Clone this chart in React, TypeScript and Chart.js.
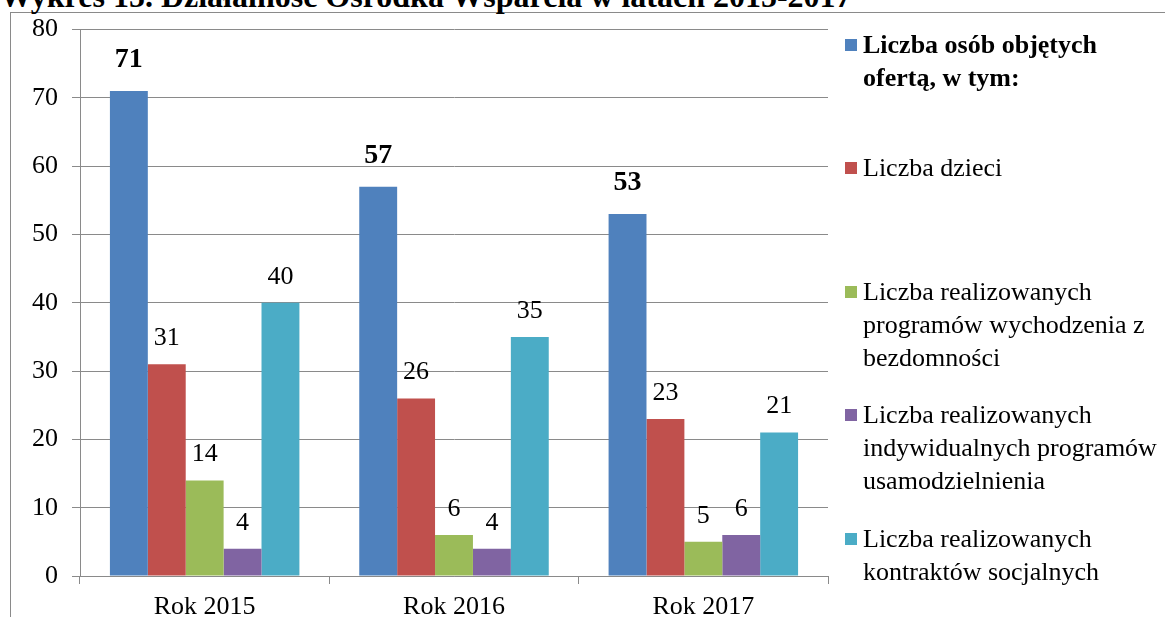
import React, { useEffect, useRef } from "react";
import { Chart, registerables } from "chart.js";

Chart.register(...registerables);

const categories = ["Rok 2015", "Rok 2016", "Rok 2017"];
const seriesNames = [
  "Liczba osób objętych\nofertą, w tym:",
  "Liczba dzieci",
  "Liczba realizowanych\nprogramów wychodzenia z\nbezdomności",
  "Liczba realizowanych\nindywidualnych programów\nusamodzielnienia",
  "Liczba realizowanych\nkontraktów socjalnych",
];
const osobyValues = [71, 57, 53];
const dzieciValues = [31, 26, 23];
const wychodzenieValues = [14, 6, 5];
const usamodzielnienieValues = [4, 4, 6];
const kontraktyValues = [40, 35, 21];
const seriesValues = [osobyValues, dzieciValues, wychodzenieValues, usamodzielnienieValues, kontraktyValues];
const seriesColors = ["#4F81BD", "#C0504D", "#9BBB59", "#8064A2", "#4BACC6"];
const yTicks = [0, 10, 20, 30, 40, 50, 60, 70, 80];
const titleText = "Wykres 15. Działalność Ośrodka Wsparcia w latach 2015-2017";

const FONT = '"Liberation Serif", "Times New Roman", serif';
const GRID = "#8a8a8a";

const valueLabels = {
  id: "valueLabels",
  afterDatasetsDraw(chart: any) {
    const ctx = chart.ctx;
    ctx.save();
    ctx.fillStyle = "#000";
    ctx.textAlign = "center";
    ctx.textBaseline = "bottom";
    chart.data.datasets.forEach((ds: any, di: number) => {
      const meta = chart.getDatasetMeta(di);
      ctx.font = di === 0 ? `bold 28px ${FONT}` : `26px ${FONT}`;
      const gap = di === 0 ? 17 : 13;
      meta.data.forEach((el: any, i: number) => {
        ctx.fillText(String(ds.data[i]), el.x, el.y - gap);
      });
    });
    ctx.restore();
  },
};

export default function App() {
  const ref = useRef<HTMLCanvasElement | null>(null);

  useEffect(() => {
    if (!ref.current) return;
    const chart = new Chart(ref.current, {
      type: "bar",
      data: {
        labels: categories,
        datasets: seriesValues.map((vals, i) => ({
          label: seriesNames[i].replace(/\n/g, " "),
          data: vals,
          backgroundColor: seriesColors[i],
          borderWidth: 0,
          categoryPercentage: 0.76,
          barPercentage: 1,
        })),
      },
      options: {
        animation: false,
        responsive: false,
        devicePixelRatio: 1,
        layout: {
          autoPadding: false,
          padding: { left: 0, right: 337, top: 27, bottom: 0 },
        },
        plugins: {
          legend: { display: false },
          tooltip: { enabled: false },
          title: { display: false },
        },
        scales: {
          x: {
            grid: {
              offset: true,
              drawOnChartArea: false,
              drawTicks: true,
              tickLength: 8,
              color: GRID,
            },
            border: { color: GRID, width: 1 },
            ticks: {
              font: { family: FONT, size: 26 },
              color: "#000",
              padding: 8,
            },
            afterFit: (s: any) => {
              s.height = 41;
            },
          },
          y: {
            min: 0,
            max: 80,
            afterBuildTicks: (s: any) => {
              s.ticks = yTicks.map((v) => ({ value: v }));
            },
            grid: {
              color: GRID,
              drawTicks: true,
              tickLength: 8,
            },
            border: { color: GRID, width: 1 },
            ticks: {
              font: { family: FONT, size: 26 },
              color: "#000",
              padding: 14,
            },
            afterFit: (s: any) => {
              s.width = 80;
            },
          },
        },
      },
      plugins: [valueLabels],
    });
    return () => chart.destroy();
  }, []);

  return (
    <div
      style={{
        position: "absolute",
        left: 0,
        top: 0,
        width: 1165,
        height: 617,
        overflow: "hidden",
        background: "#fff",
      }}
    >
      <div
        style={{
          position: "absolute",
          left: 10,
          top: 12,
          width: 1200,
          height: 700,
          border: "1px solid #8a8a8a",
        }}
      />
      <div
        style={{
          position: "absolute",
          left: 0,
          top: -20,
          fontFamily: FONT,
          fontWeight: "bold",
          fontSize: 32,
          lineHeight: "32px",
          whiteSpace: "nowrap",
          color: "#000",
        }}
      >
        {titleText}
      </div>
      <canvas
        ref={ref}
        width={1165}
        height={617}
        style={{ position: "absolute", left: 0, top: 0, width: 1165, height: 617 }}
      />
      {seriesNames.map((name, i) => (
        <div
          key={i}
          style={{
            position: "absolute",
            left: 845,
            top: 44 + i * 123.5 - 16.5,
            display: "flex",
            alignItems: "flex-start",
            fontFamily: FONT,
            fontSize: 26,
            lineHeight: "33px",
            color: "#000",
            fontWeight: i === 0 ? "bold" : "normal",
            whiteSpace: "pre-line",
          }}
        >
          <div
            style={{
              width: 12,
              height: 12,
              marginTop: 11,
              marginRight: 6,
              background: seriesColors[i],
              flex: "none",
            }}
          />
          <div>{name}</div>
        </div>
      ))}
    </div>
  );
}
